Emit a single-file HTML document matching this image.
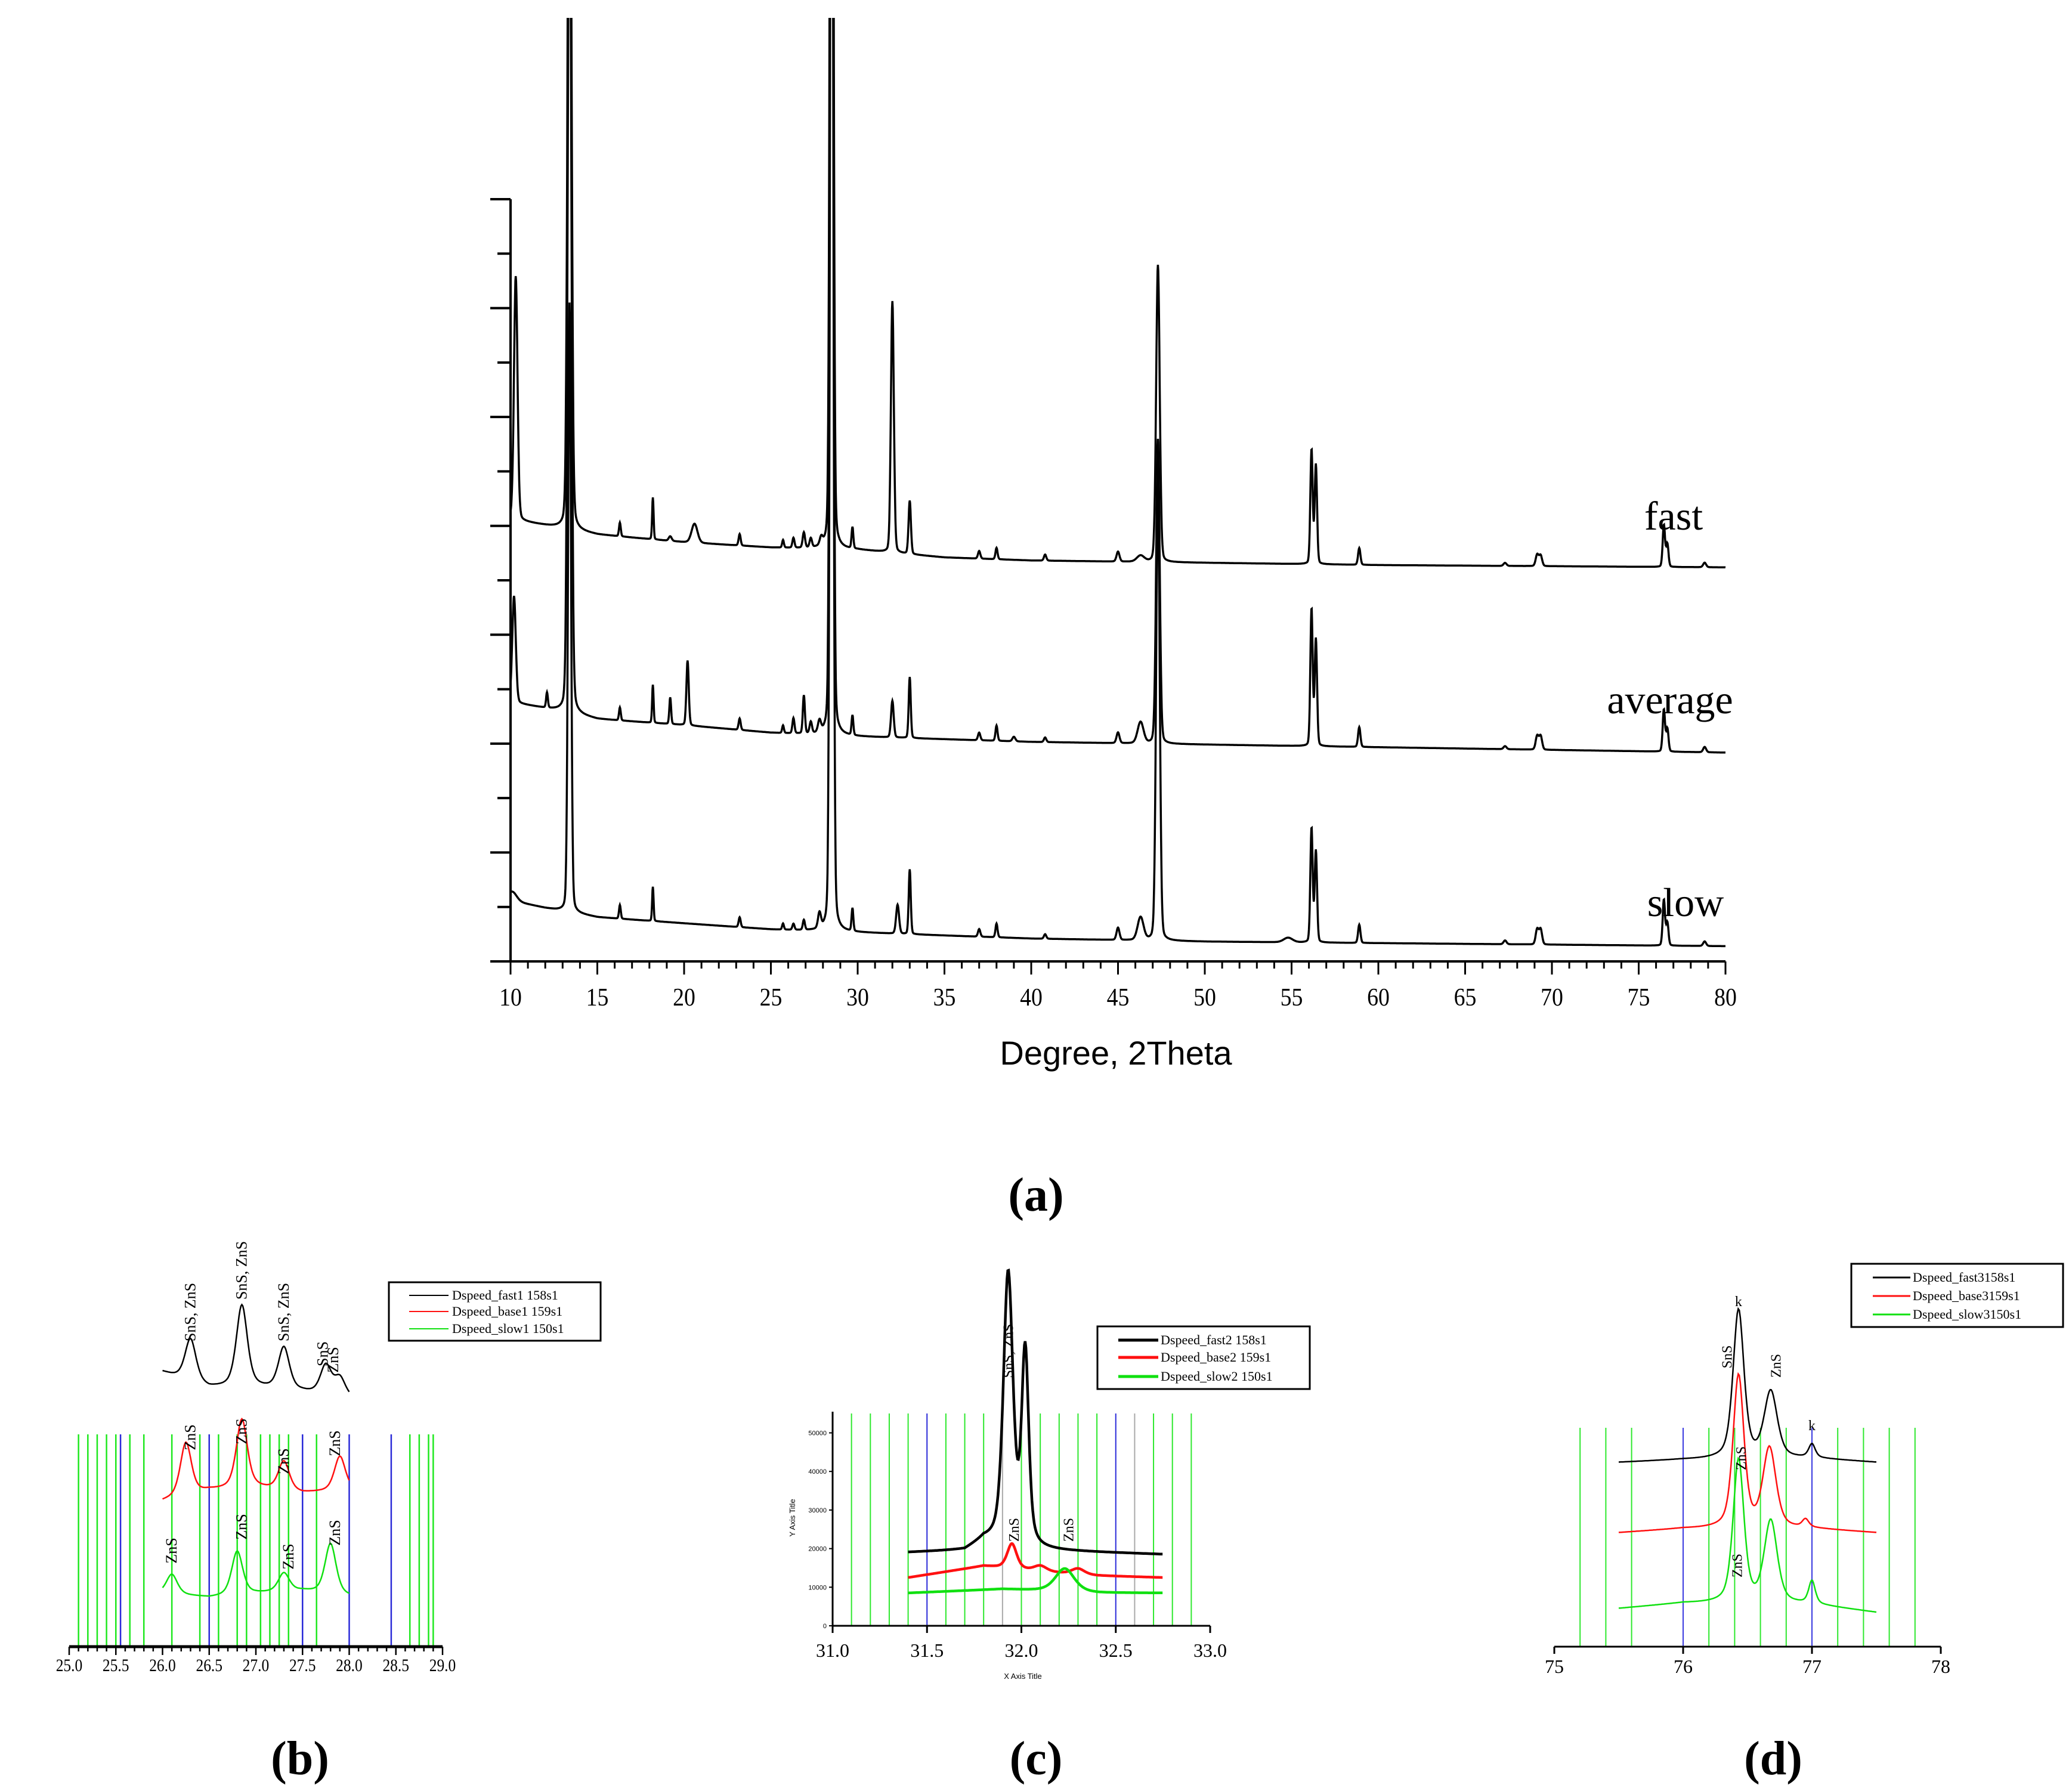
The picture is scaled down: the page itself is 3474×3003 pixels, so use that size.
<!DOCTYPE html>
<html><head><meta charset="utf-8"><style>
html,body{margin:0;padding:0;background:#fff}
svg{display:block}
</style></head><body>
<svg id="s" width="3474" height="3003" viewBox="0 0 3474 3003" xmlns="http://www.w3.org/2000/svg" font-family="Liberation Serif, serif">
<defs><clipPath id="clipA"><rect x="850" y="30" width="2100" height="1590"/></clipPath></defs>
<g id="gA"></g>
<g id="gB"></g>
<g id="gC"></g>
<g id="gD"></g>
</svg>
<script>
// ===== Panel (a) data =====
const aXTicks = [10,15,20,25,30,35,40,45,50,55,60,65,70,75,80];
const aSeriesNames = ["fast","average","slow"];
const fastBase = [[10,58],[12,57.2],[15,56],[20,55],[25,54.3],[30,54],[35,53],[40,52.6],[50,52.3],[60,52],[80,51.7]];
const fastPos = [10.3,13.4,16.3,18.2,19.2,20.6,23.2,25.7,26.3,26.9,27.3,27.9,28.5,29.7,32.0,33.0,37.0,38.0,40.8,45.0,46.3,47.3,56.15,56.4,58.9,67.3,69.15,69.35,76.45,76.65,78.8];
const fastH   = [32,120,1.8,5.5,0.6,2.5,1.5,1,1.3,2,1.2,1,200,2.8,33,7,1,1.5,0.8,1.3,0.8,39,15,13,2.2,0.4,1.5,1.4,5.5,3,0.6];
const fastW   = [0.12,0.12,0.06,0.05,0.1,0.2,0.07,0.06,0.07,0.08,0.08,0.1,0.1,0.06,0.1,0.08,0.08,0.07,0.08,0.1,0.25,0.12,0.08,0.08,0.08,0.1,0.1,0.1,0.08,0.08,0.1];
const avgBase = [[10,34],[11,33.6],[12.5,33],[15,31.8],[20,31],[25,30],[30,29.5],[40,28.8],[80,27.4]];
const avgPos = [10.2,12.1,13.4,16.3,18.2,19.2,20.2,23.2,25.7,26.3,26.9,27.3,27.8,28.5,29.7,32.0,33.0,37,38,39,40.8,45,46.3,47.3,56.15,56.4,58.9,67.3,69.15,69.35,76.45,76.65,78.8];
const avgH   = [14,2,120,1.7,5,3.5,8.5,1.5,1,2,5,1.5,1.5,200,2.6,4.8,8,1,2,0.6,0.6,1.4,2.8,40,18,14,2.6,0.4,1.8,1.8,5.5,3,0.7];
const avgW   = [0.12,0.06,0.12,0.06,0.05,0.06,0.08,0.07,0.06,0.07,0.07,0.08,0.1,0.1,0.06,0.09,0.07,0.08,0.07,0.1,0.08,0.1,0.2,0.12,0.08,0.08,0.08,0.1,0.1,0.1,0.08,0.08,0.1];
const slowBase = [[10,8],[12,7],[15,5.8],[20,5],[25,4.2],[30,3.8],[40,3],[50,2.6],[80,2]];
const slowPos = [10.1,13.4,16.3,18.2,23.2,25.7,26.3,26.9,27.8,28.5,29.7,32.3,33.0,37,38,40.8,45,46.3,47.3,54.8,56.15,56.4,58.9,67.3,69.15,69.35,76.45,76.65,78.8];
const slowH   = [1.2,80,1.8,4.5,1.3,0.8,0.8,1.3,2,200,3,3.8,8.5,1,1.8,0.6,1.6,3,60,0.6,15,12,2.4,0.5,2,2,6,3,0.6];
const slowW   = [0.3,0.1,0.06,0.05,0.07,0.06,0.07,0.07,0.1,0.1,0.06,0.1,0.07,0.08,0.07,0.08,0.1,0.2,0.12,0.3,0.08,0.08,0.08,0.1,0.1,0.1,0.08,0.08,0.1];

// ===== Panel (b) data =====
const bXTicks = [25.0,25.5,26.0,26.5,27.0,27.5,28.0,28.5,29.0];
const bGreenLines = [25.1,25.2,25.3,25.4,25.5,25.65,25.8,26.1,26.4,26.6,26.8,26.9,27.05,27.15,27.25,27.35,27.65,28.65,28.75,28.85,28.9];
const bBlueLines = [25.55,26.5,27.5,28.0,28.45];
const bBlackBase = [[26,20],[26.2,15],[26.5,8],[27,8],[27.5,5],[28,0]];
const bBlackPos = [26.3,26.85,27.3,27.75,27.9];
const bBlackH = [32,62,32,22,14];
const bRedBase = [[26,0],[26.5,8],[27,10],[27.5,6],[28,8]];
const bRedPos = [26.25,26.85,27.3,27.9];
const bRedH = [40,52,22,26];
const bGreenBase = [[26,0],[26.5,-3],[27,0],[27.5,2],[28,-2]];
const bGreenPos = [26.1,26.8,27.3,27.8];
const bGreenH = [15,33,14,38];

// ===== Panel (c) data =====
const cXTicks = [31.0,31.5,32.0,32.5,33.0];
const cYTicks = [0,10000,20000,30000,40000,50000];
const cBlackBase = [[31.4,19000],[31.7,19500],[31.8,22000],[32.1,19500],[32.75,18500]];
const cBlackPos = [31.93,32.02];
const cBlackH = [70000,50000];
const cRedBase = [[31.4,12500],[31.8,15500],[32.1,14000],[32.4,13000],[32.75,12500]];
const cRedPos = [31.95,32.1,32.3];
const cRedH = [6500,1500,1500];
const cGreenBase = [[31.4,8500],[31.9,9500],[32.4,8500],[32.75,8500]];
const cGreenPos = [32.23];
const cGreenH = [6000];

// ===== Panel (d) data =====
const dXTicks = [75,76,77,78];
const dGreenLines = [75.2,75.4,75.6,76.2,76.4,76.6,76.8,77.2,77.4,77.6,77.8];
const dBlueLines = [76.0,77.0];
const dBlackBase = [[75.5,0],[76,2],[77,3],[77.5,0]];
const dBlackPos = [76.43,76.68,77.0];
const dBlackH = [112,50,10];
const dRedBase = [[75.5,0],[76,3],[77,3],[77.5,0]];
const dRedPos = [76.43,76.67,76.95];
const dRedH = [115,60,6];
const dGreenBase = [[75.5,0],[76,4],[77,3],[77.5,-3]];
const dGreenPos = [76.43,76.68,77.0];
const dGreenH = [108,62,17];

const NS = "http://www.w3.org/2000/svg";
function el(tag, attrs, parent){const e=document.createElementNS(NS,tag);for(const k in attrs)e.setAttribute(k,attrs[k]);parent.appendChild(e);return e;}
function interp(base,x){if(x<=base[0][0])return base[0][1];for(let i=1;i<base.length;i++){if(x<=base[i][0]){const a=base[i-1],b=base[i];return a[1]+(b[1]-a[1])*(x-a[0])/(b[0]-a[0]);}}return base[base.length-1][1];}
let ETA=0.15;
function signal(x,base,pos,h,w){let y=interp(base,x);for(let i=0;i<pos.length;i++){const d=(x-pos[i])/w[i];y+=h[i]*(ETA/(1+d*d)+(1-ETA)*Math.exp(-0.6931*d*d));}return y;}
function pathFrom(x0,x1,step,fx,fy,base,pos,h,w){let d="";for(let x=x0;x<=x1+1e-9;x+=step){const px=fx(x),py=fy(signal(x,base,pos,h,w));d+=(d?"L":"M")+px.toFixed(1)+" "+py.toFixed(1);}return d;}
function txt(parent,x,y,s,size,anchor,extra){const t=el("text",Object.assign({x:x,y:y,"font-size":size,"text-anchor":anchor||"middle",fill:"#000"},extra||{}),parent);t.textContent=s;return t;}
const SANS="Liberation Sans, sans-serif";

// ---------- Panel A ----------
const gA=document.getElementById("gA");
const ax=v=>856+(v-10)*(2893-856)/70;
const ay=v=>1612-v*12.78;
let e;
e=el("line",{x1:856,y1:334,x2:856,y2:1612,stroke:"#000","stroke-width":4},gA);


e=el("line",{x1:856,y1:1612,x2:2893,y2:1612,stroke:"#000","stroke-width":4},gA);


for(let i=0;i<=14;i++){const y=334+i*(1612-334)/14;const len=(i%2===0)?34:22;
 e=el("line",{x1:856-len,y1:y,x2:856,y2:y,stroke:"#000","stroke-width":4},gA);
 
 }
for(let v=10;v<=80;v++){const major=(v%5===0);
 e=el("line",{x1:ax(v),y1:1612,x2:ax(v),y2:1612+(major?22:12),stroke:"#000","stroke-width":3},gA);
 
 }
aXTicks.forEach(v=>{e=txt(gA,ax(v),1686,String(v),42,"middle",{transform:`translate(${ax(v)},0) scale(0.9,1) translate(${-ax(v)},0)`});
 
 });
e=txt(gA,1871,1785,"Degree, 2Theta",56,"middle",{"font-family":SANS});


ETA=0.15;
const aData=[[fastBase,fastPos,fastH,fastW],[avgBase,avgPos,avgH,avgW],[slowBase,slowPos,slowH,slowW]];
aData.forEach((s,i)=>{const p=el("path",{d:pathFrom(10,80,0.02,ax,ay,s[0],s[1],s[2],s[3]),fill:"none",stroke:"#000","stroke-width":3.5,"clip-path":"url(#clipA)"},gA);
 
 });
[["fast",2806,888],["average",2800,1196],["slow",2826,1536]].forEach(l=>{e=txt(gA,l[1],l[2],l[0],68,"middle");
 
 });
e=txt(gA,1737,2030,"(a)",80,"middle",{"font-weight":"bold"});



// ---------- Panel B ----------
ETA=0.5;
const gB=document.getElementById("gB");
const bx=v=>116+(v-25)*(742-116)/4;
const by0={k:2345,r:2517,g:2672};
bGreenLines.forEach(v=>{e=el("line",{x1:bx(v),y1:2405,x2:bx(v),y2:2761,stroke:"#1ee81e","stroke-width":2.5},gB);
 
 });
bBlueLines.forEach(v=>{e=el("line",{x1:bx(v),y1:2405,x2:bx(v),y2:2761,stroke:"#2a2ad8","stroke-width":2.5},gB);
 
 });
e=el("line",{x1:116,y1:2761,x2:742,y2:2761,stroke:"#000","stroke-width":5},gB);


for(let i=0;i<=40;i++){const v=25+i*0.1;e=el("line",{x1:bx(v),y1:2761,x2:bx(v),y2:2761+(i%5===0?14:8),stroke:"#000","stroke-width":2.5},gB);
 
 }
bXTicks.forEach(v=>{e=txt(gB,bx(v),2802,v.toFixed(1),30,"middle",{transform:`translate(${bx(v)},0) scale(0.85,1) translate(${-bx(v)},0)`});
 
 });
const bS=2.227;
[[bBlackBase,bBlackPos,bBlackH,"#000",by0.k,"black"],[bRedBase,bRedPos,bRedH,"#ff1010",by0.r,"red"],[bGreenBase,bGreenPos,bGreenH,"#10e010",by0.g,"green"]].forEach(s=>{
 const w=s[1].map(()=>0.07);
 const p=el("path",{d:pathFrom(26,28,0.01,bx,v=>s[4]-v*bS,s[0],s[1],s[2],w),fill:"none",stroke:s[3],"stroke-width":2.5},gB);
 
 });
[[26.3,2200,"SnS, ZnS"],[26.85,2130,"SnS, ZnS"],[27.3,2200,"SnS, ZnS"],[27.72,2270,"SnS"],[27.83,2280,"ZnS"],[26.3,2410,"ZnS"],[26.85,2400,"ZnS"],[27.3,2450,"ZnS"],[27.85,2420,"ZnS"],[26.1,2600,"ZnS"],[26.85,2560,"ZnS"],[27.35,2610,"ZnS"],[27.85,2570,"ZnS"]].forEach(a=>{
 const x=bx(a[0])+8,y=a[1];e=txt(gB,x,y,a[2],26,"middle",{transform:`rotate(-90 ${x} ${y})`});
 
 });
e=el("rect",{x:652,y:2150,width:355,height:98,fill:"#fff",stroke:"#000","stroke-width":3},gB);


[["Dspeed_fast1 158s1","#000",2172],["Dspeed_base1 159s1","#ff1010",2199],["Dspeed_slow1 150s1","#10e010",2228]].forEach(l=>{
 e=el("line",{x1:686,y1:l[2],x2:752,y2:l[2],stroke:l[1],"stroke-width":2},gB);
 
 
 e=txt(gB,758,l[2]+7,l[0],22,"start");
 
 });
e=txt(gB,503,2975,"(b)",80,"middle",{"font-weight":"bold"});



// ---------- Panel C ----------
const gC=document.getElementById("gC");
const cx=v=>1396+(v-31)*(2029-1396)/2;
const cy=v=>2726-v*64.7/10000;
for(let i=1;i<=19;i++){const v=31+i*0.1;const blue=(i===5||i===15);const gray=(i===9||i===16);
 e=el("line",{x1:cx(v),y1:2370,x2:cx(v),y2:2726,stroke:blue?"#2a2ad8":(gray?"#aaa":"#2ee82e"),"stroke-width":2},gC);
 
 }
e=el("line",{x1:1396,y1:2367,x2:1396,y2:2726,stroke:"#000","stroke-width":3},gC);


e=el("line",{x1:1396,y1:2726,x2:2029,y2:2726,stroke:"#000","stroke-width":3},gC);


cXTicks.forEach(v=>{e=el("line",{x1:cx(v),y1:2726,x2:cx(v),y2:2738,stroke:"#000","stroke-width":3},gC);
 
 
 e=txt(gC,cx(v),2778,v.toFixed(1),32,"middle");
 
 });
cYTicks.forEach(v=>{e=el("line",{x1:1390,y1:cy(v),x2:1396,y2:cy(v),stroke:"#000","stroke-width":2},gC);
 
 
 e=txt(gC,1386,cy(v)+4,String(v),11,"end",{"font-family":SANS});
 
 });
e=txt(gC,1333,2545,"Y Axis Title",13,"middle",{"font-family":SANS,transform:"rotate(-90 1333 2545)"});


e=txt(gC,1715,2815,"X Axis Title",13,"middle",{"font-family":SANS});


[[cBlackBase,cBlackPos,cBlackH,"#000",[0.03,0.022],"black"],[cRedBase,cRedPos,cRedH,"#ff1010",[0.03,0.04,0.04],"red"],[cGreenBase,cGreenPos,cGreenH,"#10e010",[0.06],"green"]].forEach(s=>{
 const p=el("path",{d:pathFrom(31.4,32.75,0.004,cx,cy,s[0],s[1],s[2],s[4]),fill:"none",stroke:s[3],"stroke-width":4.5},gC);
 
 });
[[31.93,2265,"SnS, ZnS"],[31.96,2565,"ZnS"],[32.25,2565,"ZnS"]].forEach(a=>{const x=cx(a[0])+8,y=a[1];
 e=txt(gC,x,y,a[2],24,"middle",{transform:`rotate(-90 ${x} ${y})`});
 
 });
e=el("rect",{x:1840,y:2224,width:356,height:105,fill:"#fff",stroke:"#000","stroke-width":3},gC);


[["Dspeed_fast2 158s1","#000",2247],["Dspeed_base2 159s1","#ff1010",2276],["Dspeed_slow2 150s1","#10e010",2308]].forEach(l=>{
 e=el("line",{x1:1875,y1:l[2],x2:1942,y2:l[2],stroke:l[1],"stroke-width":5},gC);
 
 
 e=txt(gC,1946,l[2]+7,l[0],22,"start");
 
 });
e=txt(gC,1737,2975,"(c)",80,"middle",{"font-weight":"bold"});



// ---------- Panel D ----------
const gD=document.getElementById("gD");
const dx=v=>2606+(v-75)*(3254-2606)/3;
dGreenLines.forEach(v=>{e=el("line",{x1:dx(v),y1:2394,x2:dx(v),y2:2761,stroke:"#2ee82e","stroke-width":2},gD);
 
 });
dBlueLines.forEach(v=>{e=el("line",{x1:dx(v),y1:2394,x2:dx(v),y2:2761,stroke:"#3a3ae0","stroke-width":2},gD);
 
 });
e=el("line",{x1:2606,y1:2761,x2:3254,y2:2761,stroke:"#000","stroke-width":3},gD);


dXTicks.forEach(v=>{e=el("line",{x1:dx(v),y1:2761,x2:dx(v),y2:2773,stroke:"#000","stroke-width":3},gD);
 
 
 e=txt(gD,dx(v),2805,String(v),32,"middle");
 
 });
const dS=2.227;
[[dBlackBase,dBlackPos,dBlackH,"#000",2452,"black"],[dRedBase,dRedPos,dRedH,"#ff1010",2570,"red"],[dGreenBase,dGreenPos,dGreenH,"#10e010",2697,"green"]].forEach(s=>{
 const w=[0.05,0.06,0.03];
 const p=el("path",{d:pathFrom(75.5,77.5,0.008,dx,v=>s[4]-v*dS,s[0],s[1],s[2],w),fill:"none",stroke:s[3],"stroke-width":2.5},gD);
 
 });
[[76.34,2275,"SnS"],[76.72,2290,"ZnS"],[76.45,2445,"ZnS"],[76.42,2625,"ZnS"]].forEach(a=>{const x=dx(a[0])+8,y=a[1];
 e=txt(gD,x,y,a[2],24,"middle",{transform:`rotate(-90 ${x} ${y})`});
 
 });
[[76.43,2190],[77.0,2398]].forEach(a=>{e=txt(gD,dx(a[0]),a[1],"k",24,"middle");
 
 });
e=el("rect",{x:3104,y:2119,width:355,height:106,fill:"#fff",stroke:"#000","stroke-width":3},gD);


[["Dspeed_fast3158s1","#000",2142],["Dspeed_base3159s1","#ff1010",2173],["Dspeed_slow3150s1","#10e010",2204]].forEach(l=>{
 e=el("line",{x1:3140,y1:l[2],x2:3203,y2:l[2],stroke:l[1],"stroke-width":3},gD);
 
 
 e=txt(gD,3207,l[2]+7,l[0],22,"start");
 
 });
e=txt(gD,2973,2975,"(d)",80,"middle",{"font-weight":"bold"});


</script>
</body></html>
